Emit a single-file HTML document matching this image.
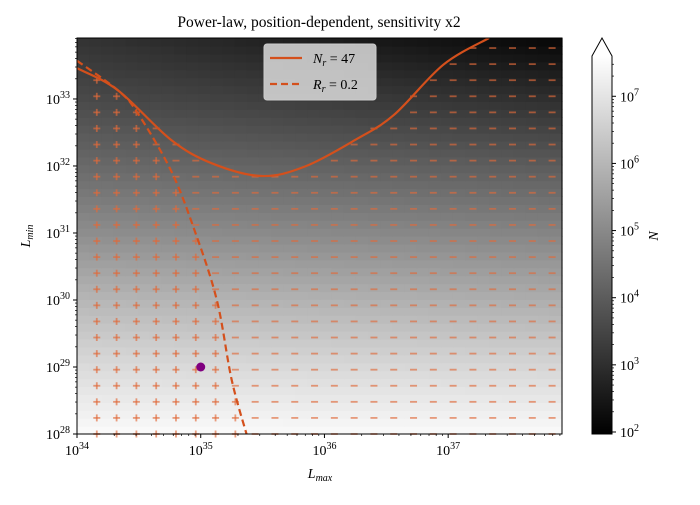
<!DOCTYPE html>
<html><head><meta charset="utf-8"><style>
body{margin:0;background:#fff}
svg text{font-family:"Liberation Serif",serif;fill:#000}
</style></head><body>
<svg id="c" width="700" height="500" xmlns="http://www.w3.org/2000/svg">
<text x="319" y="27" font-size="15.5" text-anchor="middle">Power-law, position-dependent, sensitivity x2</text>
<g id="heat"></g>
<g id="marks"></g>
<g id="curves"></g>
<g id="axes"></g>
<g id="cbar"></g>
<g>
<rect x="264" y="44" width="112" height="56" rx="3" fill="#dcdcdc" fill-opacity="0.85" stroke="#ccc"/>
<line x1="270" y1="58" x2="302" y2="58" stroke="#d4501c" stroke-width="2.2"/>
<text x="313" y="63" font-size="14" font-style="italic">N<tspan font-size="10" dy="3">r</tspan><tspan dy="-3" font-style="normal"> = 47</tspan></text>
<line x1="270" y1="84" x2="302" y2="84" stroke="#d4501c" stroke-width="2.2" stroke-dasharray="7,4"/>
<text x="313" y="89" font-size="14" font-style="italic">R<tspan font-size="10" dy="3">r</tspan><tspan dy="-3" font-style="normal"> = 0.2</tspan></text>
</g>
</svg>
<script>
// data
const heatY=[28,29,30,31,32,33,33.9];
const heatLeft=[7.5,6.8,6.0,5.1,4.3,3.6,3.1];
const heatRight=[7.5,6.7,5.8,4.9,4.0,3.0,2.1];
const solidX=[34.00,34.33,34.76,35.09,35.49,35.84,36.25,36.56,36.96,37.33];
const solidY=[33.46,33.13,32.39,32.04,31.85,31.99,32.39,32.76,33.51,33.91];
const dashX=[34.00,34.33,34.49,34.76,34.95,35.13,35.25,35.37];
const dashY=[33.57,33.13,32.79,31.93,31.04,30.00,28.81,28.00];
const gridX=[34.16,34.32,34.48,34.64,34.80,34.96,35.12,35.28,35.44,35.60,35.76,35.92,36.08,36.24,36.40,36.56,36.72,36.88,37.04,37.20,37.36,37.52,37.68,37.84];
const gridY=[28.0,28.24,28.48,28.72,28.96,29.2,29.44,29.68,29.92,30.16,30.4,30.64,30.88,31.12,31.36,31.6,31.84,32.08,32.32,32.56,32.8,33.04,33.28,33.52,33.76];
const pointX=[35.0], pointY=[29.0];
const xTicks=[34,35,36,37], yTicks=[28,29,30,31,32,33], cTicks=[2,3,4,5,6,7];

const NS="http://www.w3.org/2000/svg";
const L=77,R=562,T=38,B=434;
const X0=34,X1=37.92,Y0=28,Y1=33.91;
const sx=v=>L+(v-X0)/(X1-X0)*(R-L);
const sy=v=>B-(v-Y0)/(Y1-Y0)*(B-T);
const C0=1.97,C1=7.6;
const gray=v=>{let g=Math.round(Math.max(0,Math.min(1,(v-C0)/(C1-C0)))*255);return `rgb(${g},${g},${g})`;};
function el(t,a,p){const e=document.createElementNS(NS,t);for(const k in a)e.setAttribute(k,a[k]);p.appendChild(e);return e;}
function interp(xs,ys,x){if(x<=xs[0])return ys[0]+(ys[1]-ys[0])*(x-xs[0])/(xs[1]-xs[0]);for(let i=1;i<xs.length;i++){if(x<=xs[i])return ys[i-1]+(ys[i]-ys[i-1])*(x-xs[i-1])/(xs[i]-xs[i-1]);}const n=xs.length;return ys[n-2]+(ys[n-1]-ys[n-2])*(x-xs[n-2])/(xs[n-1]-xs[n-2]);}
function smooth(pts){let d='M'+pts[0][0]+','+pts[0][1];for(let i=0;i<pts.length-1;i++){const p0=pts[Math.max(0,i-1)],p1=pts[i],p2=pts[i+1],p3=pts[Math.min(pts.length-1,i+2)];
 const c1x=p1[0]+(p2[0]-p0[0])/6,c1y=p1[1]+(p2[1]-p0[1])/6,c2x=p2[0]-(p3[0]-p1[0])/6,c2y=p2[1]-(p3[1]-p1[1])/6;
 d+=` C${c1x},${c1y} ${c2x},${c2y} ${p2[0]},${p2[1]}`;}return d;}

// heatmap
const heat=document.getElementById('heat');
const nC=40,nR=50;
for(let j=0;j<nR;j++){const ly=Y0+(j+0.5)*(Y1-Y0)/nR;const a=interp(heatY,heatLeft,ly),b=interp(heatY,heatRight,ly);
 for(let i=0;i<nC;i++){const f=(i+0.5)/nC;const v=a+(b-a)*f;
  const r=el('rect',{x:L+i*(R-L)/nC,y:sy(Y0+(j+1)*(Y1-Y0)/nR),width:(R-L)/nC+0.6,height:(B-T)/nR+0.6,fill:gray(v)},heat);
  
  }}

// markers
const marks=document.getElementById('marks');
gridX.forEach(gx=>{gridY.forEach(gy=>{
 if(gy>interp(solidX,solidY,gx))return;
 const px=sx(gx),py=sy(gy);
 let dx=interp(dashY.slice().reverse(),dashX.slice().reverse(),gy);
 const plus=gx<dx;
 const g=el('g',{stroke:'#e06a3a','stroke-opacity':0.65,'stroke-width':1.8},marks);
 
 
 el('line',{x1:px-3.5,y1:py,x2:px+3.5,y2:py},g);
 if(plus)el('line',{x1:px,y1:py-3.5,x2:px,y2:py+3.5},g);
});});

// curves
const cv=document.getElementById('curves');
const clip=el('clipPath',{id:'cp'},cv);el('rect',{x:L,y:T,width:R-L,height:B-T},clip);
const s=el('path',{d:smooth(solidX.map((x,i)=>[sx(x),sy(solidY[i])])),fill:'none',stroke:'#d4501c','stroke-width':2.2,'clip-path':'url(#cp)'},cv);


const d=el('path',{d:smooth(dashX.map((x,i)=>[sx(x),sy(dashY[i])])),fill:'none',stroke:'#d4501c','stroke-width':2.2,'stroke-dasharray':'7,4','clip-path':'url(#cp)'},cv);


pointX.forEach((x,i)=>{const c=el('circle',{cx:sx(x),cy:sy(pointY[i]),r:4.5,fill:'#800080'},cv);
 
 });

// axes
const ax=document.getElementById('axes');
el('rect',{x:L,y:T,width:R-L,height:B-T,fill:'none',stroke:'#000','stroke-width':1},ax);
const mins=[2,3,4,5,6,7,8,9].map(k=>Math.log10(k));
xTicks.forEach(t=>{const x=sx(t);el('line',{x1:x,y1:B,x2:x,y2:B+4,stroke:'#000'},ax);
 const tx=el('text',{x:x,y:B+21,'font-size':14,'text-anchor':'middle'},ax);tx.innerHTML='10<tspan font-size="10" dy="-6">'+t+'</tspan>';
 
 
 mins.forEach(m=>{if(t+m<X1)el('line',{x1:sx(t+m),y1:B,x2:sx(t+m),y2:B+2,stroke:'#000','stroke-width':0.7},ax);});});
yTicks.forEach(t=>{const y=sy(t);el('line',{x1:L,y1:y,x2:L-4,y2:y,stroke:'#000'},ax);
 const tx=el('text',{x:L-7,y:y+5,'font-size':14,'text-anchor':'end'},ax);tx.innerHTML='10<tspan font-size="10" dy="-6">'+t+'</tspan>';
 
 
 mins.forEach(m=>{if(t+m<Y1)el('line',{x1:L,y1:sy(t+m),x2:L-2,y2:sy(t+m),stroke:'#000','stroke-width':0.7},ax);});});
const xl=el('text',{x:320,y:478,'font-size':14,'text-anchor':'middle','font-style':'italic'},ax);xl.innerHTML='L<tspan font-size="10" dy="3">max</tspan>';


const yl=el('text',{transform:'translate(30,236) rotate(-90)','font-size':14,'text-anchor':'middle','font-style':'italic'},ax);yl.innerHTML='L<tspan font-size="10" dy="3">min</tspan>';



// colorbar
const cb=document.getElementById('cbar');
const CL=592,CR=612,CT=56,CB=434;
const cy=v=>CB-(v-C0)/(C1-C0)*(CB-CT);
const grad=el('linearGradient',{id:'cg',x1:0,y1:1,x2:0,y2:0},cb);
el('stop',{offset:0,'stop-color':'#000'},grad);el('stop',{offset:1,'stop-color':'#fff'},grad);
el('rect',{x:CL,y:CT,width:CR-CL,height:CB-CT,fill:'url(#cg)'},cb);
el('path',{d:`M${CL},${CB}V${CT}L${(CL+CR)/2},38L${CR},${CT}V${CB}Z`,fill:'none',stroke:'#000','stroke-width':1},cb);
cTicks.forEach(t=>{const y=cy(t);el('line',{x1:CR,y1:y,x2:CR+4,y2:y,stroke:'#000'},cb);
 const tx=el('text',{x:CR+8,y:y+5,'font-size':14},cb);tx.innerHTML='10<tspan font-size="10" dy="-6">'+t+'</tspan>';
 
 
 mins.forEach(m=>{if(t+m<C1)el('line',{x1:CR,y1:cy(t+m),x2:CR+2,y2:cy(t+m),stroke:'#000','stroke-width':0.7},cb);});});
const cl=el('text',{transform:'translate(658,236) rotate(-90)','font-size':14,'text-anchor':'middle','font-style':'italic'},cb);cl.textContent='N';


</script>
</body></html>
